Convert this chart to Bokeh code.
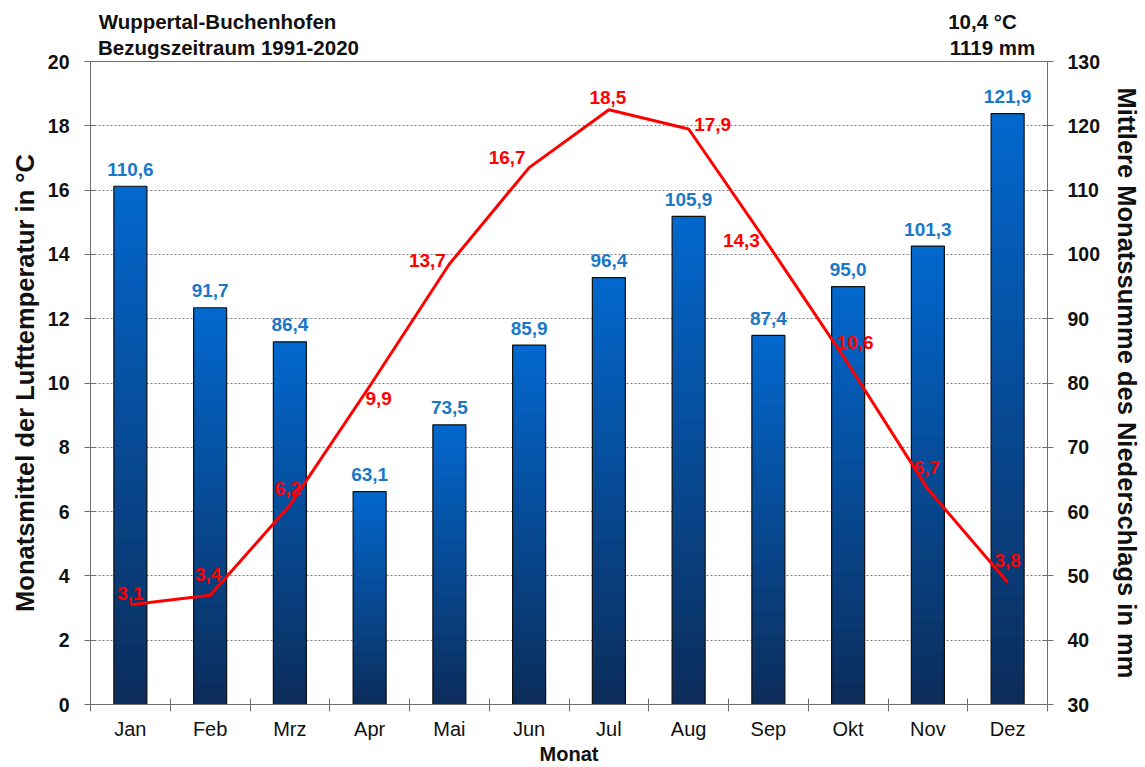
from bokeh.plotting import figure
from bokeh.models import Range1d, LinearAxis, FixedTicker, ColumnDataSource
from bokeh.core.properties import value
from bokeh.embed import file_html
from bokeh.resources import INLINE

# ---- data ----
months = ["Jan", "Feb", "Mrz", "Apr", "Mai", "Jun", "Jul", "Aug", "Sep", "Okt", "Nov", "Dez"]
temperature = [3.1, 3.4, 6.2, 9.9, 13.7, 16.7, 18.5, 17.9, 14.3, 10.6, 6.7, 3.8]
precipitation = [110.6, 91.7, 86.4, 63.1, 73.5, 85.9, 96.4, 105.9, 87.4, 95.0, 101.3, 121.9]
temp_ticks = [0, 2, 4, 6, 8, 10, 12, 14, 16, 18, 20]
precip_ticks = [30, 40, 50, 60, 70, 80, 90, 100, 110, 120, 130]
station = "Wuppertal-Buchenhofen"
period = "Bezugszeitraum 1991-2020"
annual_temp = "10,4 °C"
annual_precip = "1119 mm"

# ---- style ----
FONT = "Liberation Sans"
BLUE_TXT = "#1b78c8"
RED = "#ff0000"
AX = "#6e6e6e"
TXT = "#111111"
TOP_RGB = (2, 104, 206)
BOT_RGB = (12, 44, 90)
# label nudges (screen px, y down) for temperature labels
t_dx = [0, -2, -2, 9, -22, -22, -1, 24, -27, 7, -1, 0]
t_dy = [-11, -21, -17, 12, -4, -10, -12, -5, -4, -21, -22, -22]
# header text centres in frame pixels (row nearest the frame, row above it)
hdr_row1 = {138: period, 902: annual_precip}
hdr_row2 = {127: station, 892: annual_temp}

def fmt(v):
    return f"{v:.1f}".replace(".", ",")

p = figure(width=1145, height=767, output_backend="svg", toolbar_location=None,
           x_range=Range1d(0, 12), y_range=Range1d(0, 20),
           min_border_left=90, min_border_right=98, min_border_top=61, min_border_bottom=62)
p.extra_y_ranges = {"precip": Range1d(precip_ticks[0], precip_ticks[-1])}
p.extra_x_ranges = {"px": Range1d(0, 957)}
p.outline_line_color = AX
p.outline_line_width = 1
p.background_fill_color = "white"
p.border_fill_color = "white"

# grid
p.xgrid.visible = False
p.ygrid.ticker = FixedTicker(ticks=temp_ticks)
p.ygrid.grid_line_color = "#7a7a7a"
p.ygrid.grid_line_dash = "2 2"
p.ygrid.grid_line_width = 1

# bars with vertical gradient
base = precip_ticks[0]
N = 60
qs = dict(left=[], right=[], bottom=[], top=[], color=[])
bw = 0.207
for i, v in enumerate(precipitation):
    xc = i + 0.5
    h = v - base
    for k in range(N):
        f0 = k / N
        f1 = (k + 1) / N
        fm = (k + 0.5) / N
        c = tuple(int(round(BOT_RGB[j] + (TOP_RGB[j] - BOT_RGB[j]) * fm)) for j in range(3))
        qs["left"].append(xc - bw)
        qs["right"].append(xc + bw)
        qs["bottom"].append(base + h * f0)
        qs["top"].append(min(v, base + h * f1 + (h / N) * 0.3))
        qs["color"].append("#%02x%02x%02x" % c)
p.quad(left="left", right="right", bottom="bottom", top="top", fill_color="color",
       line_color=None, source=ColumnDataSource(qs), y_range_name="precip")
xs = [i + 0.5 for i in range(12)]
p.quad(left=[x - bw for x in xs], right=[x + bw for x in xs], bottom=[base] * 12,
       top=precipitation, fill_color=None, line_color="#111111", line_width=1.2,
       y_range_name="precip")

# bar value labels
p.text(x=xs, y=precipitation, text=[fmt(v) for v in precipitation], y_range_name="precip",
       text_align="center", text_baseline="middle", y_offset=-17,
       text_color=BLUE_TXT, text_font_size="19px", text_font_style="bold",
       text_font=value(FONT))

# temperature line
p.line(xs, temperature, line_color=RED, line_width=3)
p.text(x=xs, y=temperature, text=[fmt(v) for v in temperature],
       x_offset=t_dx, y_offset=t_dy,
       text_align="center", text_baseline="middle",
       text_color=RED, text_font_size="19px", text_font_style="bold",
       text_font=value(FONT))

# x axis
xa = p.xaxis[0]
xa.ticker = FixedTicker(ticks=xs, minor_ticks=list(range(13)))
xa.major_label_overrides = {x: m for x, m in zip(xs, months)}
xa.major_tick_line_color = None
xa.minor_tick_line_color = AX
xa.minor_tick_in = 6
xa.minor_tick_out = 7
xa.axis_line_color = AX
xa.major_label_standoff = 6
xa.major_label_text_font = FONT
xa.major_label_text_font_size = "20px"
xa.major_label_text_color = TXT
xa.axis_label = "Monat"
xa.axis_label_text_font = FONT
xa.axis_label_text_font_size = "20px"
xa.axis_label_text_font_style = "bold"
xa.axis_label_text_color = TXT
xa.axis_label_standoff = 0

# left axis
ya = p.yaxis[0]
ya.ticker = FixedTicker(ticks=temp_ticks)
ya.minor_tick_line_color = None
ya.major_tick_in = 5
ya.major_tick_out = 6
ya.major_tick_line_color = AX
ya.axis_line_color = AX
ya.major_label_standoff = 15
ya.major_label_text_font = FONT
ya.major_label_text_font_size = "19.5px"
ya.major_label_text_font_style = "bold"
ya.major_label_text_color = TXT
ya.axis_label = "Monatsmittel der Lufttemperatur in °C"
ya.axis_label_text_font = FONT
ya.axis_label_text_font_size = "25.5px"
ya.axis_label_text_font_style = "bold"
ya.axis_label_text_color = TXT
ya.axis_label_standoff = 6

# right axis
ra = LinearAxis(y_range_name="precip", ticker=FixedTicker(ticks=precip_ticks))
ra.minor_tick_line_color = None
ra.major_tick_in = 5
ra.major_tick_out = 6
ra.major_tick_line_color = AX
ra.axis_line_color = AX
ra.major_label_standoff = 14
ra.major_label_text_font = FONT
ra.major_label_text_font_size = "19.5px"
ra.major_label_text_font_style = "bold"
ra.major_label_text_color = TXT
ra.axis_label = "Mittlere Monatssumme des Niederschlags in mm"
ra.axis_label_text_font = FONT
ra.axis_label_text_font_size = "25.5px"
ra.axis_label_text_font_style = "bold"
ra.axis_label_text_color = TXT
ra.axis_label_standoff = 10
p.add_layout(ra, "right")

# header rows as tick-label-only axes above the frame
for row, standoff in ((hdr_row1, 3), (hdr_row2, 0)):
    ax = LinearAxis(x_range_name="px", ticker=FixedTicker(ticks=list(row.keys())),
                    major_label_overrides=row)
    ax.axis_line_color = None
    ax.major_tick_line_color = None
    ax.minor_tick_line_color = None
    ax.major_tick_out = 0
    ax.major_tick_in = 0
    ax.major_label_standoff = standoff
    ax.major_label_text_font = FONT
    ax.major_label_text_font_size = "20.5px"
    ax.major_label_text_font_style = "bold"
    ax.major_label_text_color = TXT
    p.add_layout(ax, "above")

open("out.html", "w").write(file_html(p, INLINE))
